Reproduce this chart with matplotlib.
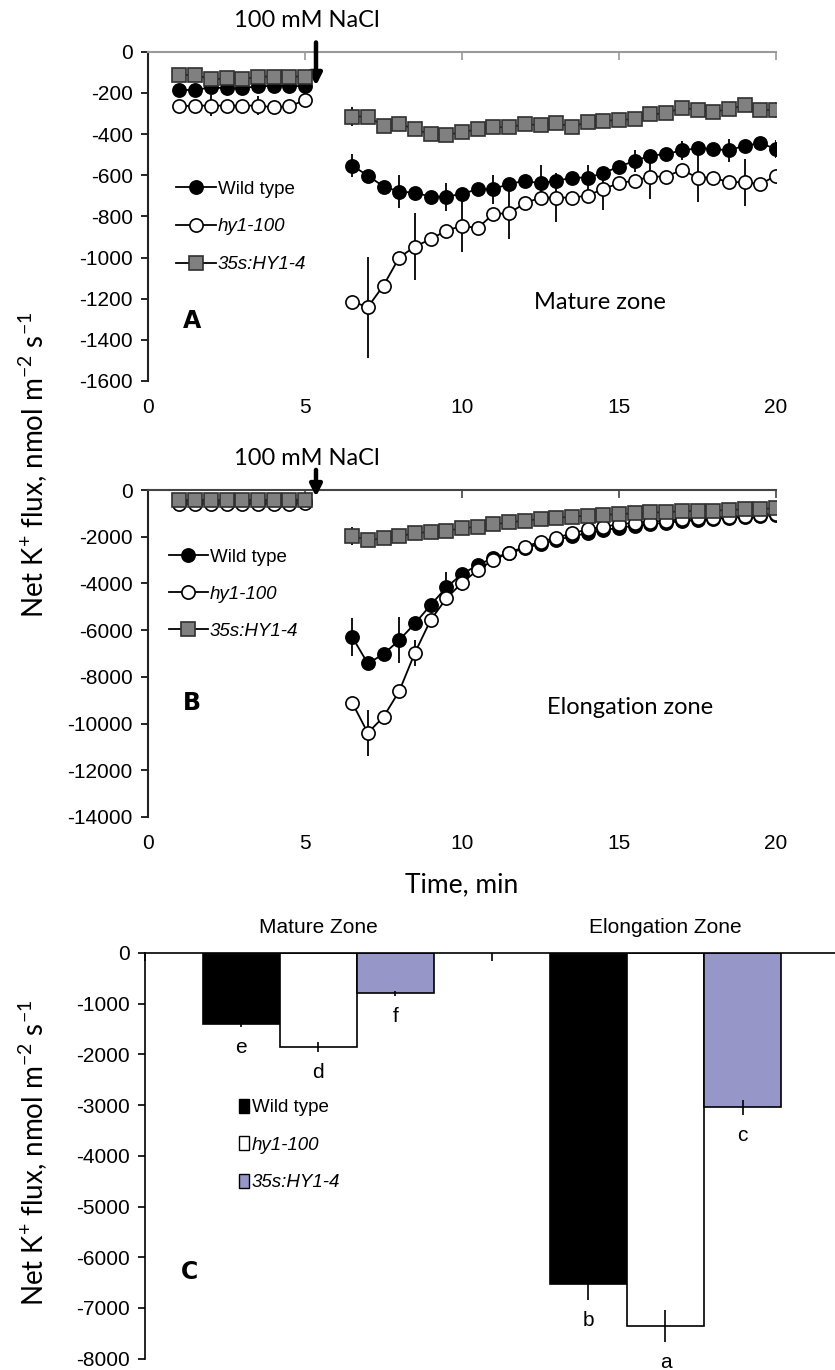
import numpy as np
import matplotlib
matplotlib.use("Agg")
import matplotlib.pyplot as plt
from matplotlib.lines import Line2D
from matplotlib.patches import Patch

plt.rcParams['font.family'] = ['Liberation Sans', 'DejaVu Sans']
plt.rcParams['axes.unicode_minus'] = False
plt.rcParams['mathtext.fontset'] = 'custom'
plt.rcParams['mathtext.rm'] = 'Lato'
plt.rcParams['mathtext.it'] = 'Lato:italic'

# time points (min)
t_pre = [1, 1.5, 2, 2.5, 3, 3.5, 4, 4.5, 5]
t_post = [6.5, 7, 7.5, 8, 8.5, 9, 9.5, 10, 10.5, 11, 11.5, 12, 12.5, 13, 13.5,
          14, 14.5, 15, 15.5, 16, 16.5, 17, 17.5, 18, 18.5, 19, 19.5, 20]
NACL_TIME = 5.35
labels = ['Wild type', 'hy1-100', '35s:HY1-4']

# ---- panel A: mature zone ----
wt_a_pre = [-186, -186, -173, -178, -178, -167, -167, -167, -167]
hy_a_pre = [-265, -262, -262, -262, -262, -262, -270, -265, -236]
oe_a_pre = [-113, -113, -134, -130, -134, -121, -121, -121, -121]
hy_a_pre_err = [0, 0, 50, 0, 0, 45, 0, 0, 20]

wt_a = [-553, -602, -655, -680, -685, -704, -704, -691, -668, -668, -642, -628, -639, -628,
        -612, -612, -590, -558, -531, -505, -497, -480, -469, -472, -480, -456, -445, -472]
hy_a = [-1214, -1241, -1136, -1000, -947, -911, -869, -846, -857, -788, -785, -736, -709, -709,
        -709, -699, -667, -639, -626, -607, -607, -574, -612, -612, -634, -634, -644, -602]
oe_a = [-315, -315, -360, -350, -377, -401, -404, -391, -377, -367, -367, -353, -356, -345,
        -367, -340, -336, -332, -328, -304, -299, -272, -283, -291, -280, -259, -283, -283]
wt_a_err = [55, 0, 0, 80, 0, 0, 68, 0, 0, 70, 0, 0, 90, 0,
            0, 60, 0, 0, 55, 0, 0, 45, 0, 0, 55, 0, 0, 45]
hy_a_err = [0, 245, 0, 0, 163, 0, 0, 125, 0, 0, 125, 0, 0, 120,
            0, 0, 100, 0, 0, 110, 0, 0, 120, 0, 0, 115, 0, 0]
oe_a_err = [45, 0, 0, 20, 0, 0, 20, 0, 0, 35, 0, 0, 25, 0,
            0, 30, 0, 0, 35, 0, 0, 25, 0, 0, 30, 0, 0, 37]

# ---- panel B: elongation zone ----
wt_b_pre = [-500, -500, -500, -500, -500, -500, -500, -500, -480]
hy_b_pre = [-600, -600, -590, -590, -590, -590, -590, -580, -570]
oe_b_pre = [-430, -420, -430, -430, -430, -430, -420, -420, -410]

wt_b = [-6286, -7428, -7028, -6428, -5714, -4928, -4171, -3600, -3214, -2900, -2700, -2500, -2300, -2150,
        -1980, -1850, -1720, -1620, -1530, -1460, -1400, -1340, -1290, -1240, -1200, -1160, -1120, -1080]
hy_b = [-9100, -10400, -9714, -8614, -6971, -5571, -4643, -3971, -3428, -3000, -2686, -2428, -2214, -2043,
        -1857, -1686, -1571, -1471, -1400, -1357, -1314, -1257, -1214, -1186, -1143, -1114, -1071, -1028]
oe_b = [-1957, -2143, -2071, -1971, -1857, -1786, -1743, -1643, -1571, -1471, -1386, -1314, -1243, -1186,
        -1143, -1100, -1071, -1028, -1000, -957, -957, -900, -900, -886, -857, -829, -814, -786]
wt_b_err = [805, 0, 0, 1000, 0, 0, 670, 0, 0, 150, 0, 0, 100, 0,
            0, 80, 0, 0, 80, 0, 0, 60, 0, 0, 60, 0, 0, 60]
hy_b_err = [0, 1000, 0, 0, 557, 0, 0, 371, 0, 0, 150, 0, 0, 100,
            0, 0, 80, 0, 0, 60, 0, 0, 60, 0, 0, 60, 0, 0]
oe_b_err = [390, 0, 0, 300, 0, 0, 150, 0, 0, 100, 0, 0, 80, 0,
            0, 60, 0, 0, 60, 0, 0, 60, 0, 0, 60, 0, 0, 60]

# ---- panel C: mean flux ----
zones = ['Mature Zone', 'Elongation Zone']
wt_c = [-1400, -6535]
hy_c = [-1850, -7360]
oe_c = [-795, -3045]
wt_c_err = [50, 310]
hy_c_err = [100, 310]
oe_c_err = [50, 150]
wt_letters = ['e', 'b']
hy_letters = ['d', 'a']
oe_letters = ['f', 'c']

W, H = 835, 1370
fig = plt.figure(figsize=(W / 100, H / 100), dpi=100)


def px_axes(left, top, right, bottom):
    return fig.add_axes([left / W, 1 - bottom / H, (right - left) / W, (bottom - top) / H])


styles = [dict(marker='o', mfc='black', mec='black', ms=9.5),
          dict(marker='o', mfc='white', mec='black', ms=9.5),
          dict(marker='s', mfc='#808080', mec='#303030', ms=9.5)]


def time_panel(ax, pre, post, pre_err, post_err, ymin, ystep, spine_col):
    for i in range(3):
        for t, y, e in ((t_pre, pre[i], pre_err[i]), (t_post, post[i], post_err[i])):
            ax.errorbar(t, y, yerr=e, color='black', lw=1.3, elinewidth=1.3, capsize=0,
                        mew=1.2, zorder=2 + i, **styles[i])
    ax.set_xlim(0, 20)
    ax.set_ylim(ymin, 0)
    ax.set_xticks([0, 5, 10, 15, 20])
    ax.set_yticks(np.arange(ymin, 1, ystep))
    ax.spines['right'].set_visible(False)
    ax.spines['bottom'].set_visible(False)
    ax.spines['top'].set_color(spine_col)
    ax.spines['top'].set_linewidth(1.5)
    ax.spines['left'].set_linewidth(1.5)
    ax.spines['left'].set_color('#222222')
    ax.tick_params(axis='x', top=True, bottom=False, labelbottom=True, direction='in',
                   length=6, width=1.2, color=spine_col, labelsize=15, pad=12)
    ax.tick_params(axis='y', direction='out', length=5, width=1.2, labelsize=15, pad=6)
    handles = [Line2D([], [], color='black', lw=1.3, mew=1.2, **s) for s in styles]
    return handles


def nacl_arrow(ax, tip, tail, text_y):
    ax.annotate('', xy=(NACL_TIME, tip), xytext=(NACL_TIME, tail), annotation_clip=False,
                arrowprops=dict(arrowstyle='-|>,head_length=0.7,head_width=0.35', lw=3.2,
                                color='black', shrinkA=0, shrinkB=0))
    ax.text(5.05, text_y, '100 mM NaCl', ha='center', va='center', fontsize=17,
            family='Lato', clip_on=False)


def series_legend(ax, handles, anchor, spacing):
    leg = ax.legend(handles, labels, loc='upper left', bbox_to_anchor=anchor, frameon=False,
                    fontsize=13.5, handlelength=2.1, handletextpad=0.1, labelspacing=spacing,
                    borderpad=0, borderaxespad=0)
    for txt in leg.get_texts()[1:]:
        txt.set_fontstyle('italic')


# panel A
axA = px_axes(148, 51.7, 776, 381)
hA = time_panel(axA, [wt_a_pre, hy_a_pre, oe_a_pre], [wt_a, hy_a, oe_a],
                [0, hy_a_pre_err, 0], [wt_a_err, hy_a_err, oe_a_err], -1600, 200, '#999999')
series_legend(axA, hA, (0.045, 0.609), 1.1)
nacl_arrow(axA, -165, 45, 154)
axA.text(1.1, -1310, 'A', fontsize=17, fontweight='heavy', family='DejaVu Sans', va='center')
axA.text(14.4, -1220, 'Mature zone', fontsize=17, family='Lato', ha='center', va='center')

# panel B
axB = px_axes(148, 490, 776, 817)
hB = time_panel(axB, [wt_b_pre, hy_b_pre, oe_b_pre], [wt_b, hy_b, oe_b],
                [0, 0, 0], [wt_b_err, hy_b_err, oe_b_err], -14000, 2000, '#444444')
series_legend(axB, hB, (0.033, 0.82), 1.05)
nacl_arrow(axB, -290, 860, 1330)
axB.text(1.1, -9100, 'B', fontsize=17, fontweight='heavy', family='DejaVu Sans', va='center')
axB.text(15.35, -9300, 'Elongation zone', fontsize=17, family='Lato', ha='center', va='center')
axB.set_xlabel('Time, min', fontsize=19, family='Lato', labelpad=14)

# panel C
axC = px_axes(144.8, 953, 839, 1358.6)
x = np.arange(len(zones))
w = 0.222
bars = [(wt_c, wt_c_err, wt_letters, 'black'),
        (hy_c, hy_c_err, hy_letters, 'white'),
        (oe_c, oe_c_err, oe_letters, '#9696c8')]
for k, (vals, errs, lets, col) in enumerate(bars):
    xs = x + (k - 1) * w
    axC.bar(xs, vals, width=w, color=col, edgecolor='black', linewidth=1.2, zorder=2)
    axC.errorbar(xs, vals, yerr=errs, fmt='none', ecolor='black', elinewidth=1.2,
                 capsize=0, zorder=3)
    for xi, v, e, l in zip(xs, vals, errs, lets):
        axC.annotate(l, (xi, v - e), xytext=(0, -15), textcoords='offset points',
                     ha='center', va='center', fontsize=15)
for xi, z in zip(x, zones):
    axC.text(xi, 1.04, z, transform=axC.get_xaxis_transform(), ha='center', va='bottom',
             fontsize=15)
axC.set_xlim(-0.5, 1.5)
axC.set_ylim(-8000, 0)
axC.set_yticks(np.arange(-8000, 1, 1000))
axC.set_xticks([-0.5, 0.5, 1.5])
axC.set_xticklabels([])
axC.spines['right'].set_visible(False)
axC.spines['bottom'].set_visible(False)
axC.spines['top'].set_linewidth(1.2)
axC.spines['left'].set_linewidth(1.2)
axC.tick_params(axis='x', top=True, bottom=False, direction='in', length=6, width=1.2)
axC.tick_params(axis='y', direction='out', length=5, width=1.2, labelsize=15, pad=6)
leg = axC.legend([Patch(facecolor=b[3], edgecolor='black', lw=1.0) for b in bars], labels,
                 loc='upper left', bbox_to_anchor=(0.135, 0.64), frameon=False, fontsize=13.5,
                 handlelength=0.55, handleheight=0.75, handletextpad=0.15, labelspacing=1.07,
                 borderpad=0, borderaxespad=0)
for txt in leg.get_texts()[1:]:
    txt.set_fontstyle('italic')
axC.text(-0.395, -6300, 'C', fontsize=17, fontweight='heavy', family='DejaVu Sans', va='center')

# shared y labels
ylab = r'Net K$^{+}$ flux, nmol m$^{-2}$ s$^{-1}$'
fig.text(33 / W, 1 - 465 / H, ylab, rotation=90, ha='center', va='center', fontsize=20, family='Lato')
fig.text(33 / W, 1 - 1153 / H, ylab, rotation=90, ha='center', va='center', fontsize=20, family='Lato')

fig.savefig('out.png', dpi=100)
